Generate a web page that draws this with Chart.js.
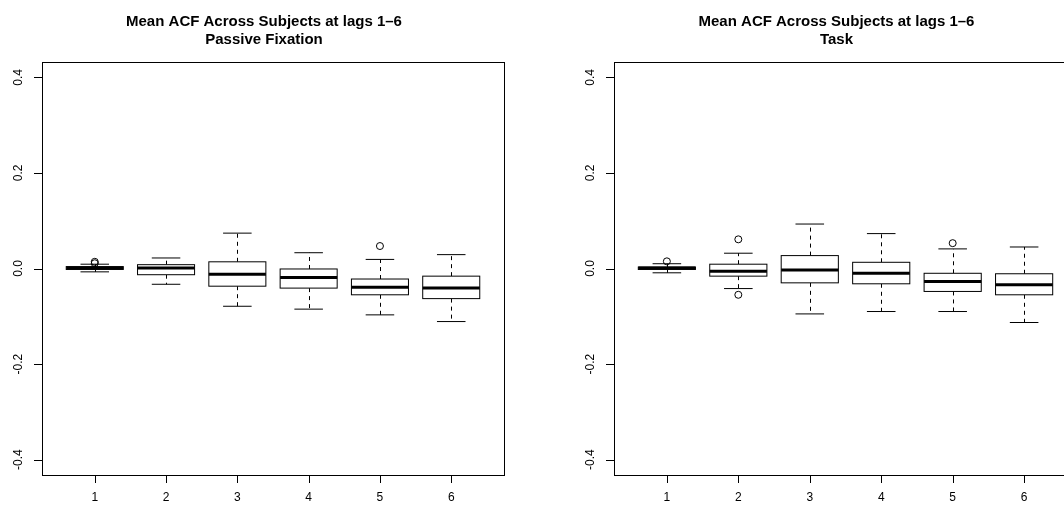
<!DOCTYPE html>
<html>
<head>
<meta charset="utf-8">
<script src="https://cdn.jsdelivr.net/npm/chart.js@4"></script>
<style>
  html, body { margin: 0; padding: 0; background: #fff; }
  #wrap { position: relative; width: 1064px; height: 505px; overflow: hidden; }
  #left { position: absolute; left: 0; top: 0; }
  #right { position: absolute; left: 532px; top: 0; }
</style>
</head>
<body>
<div id="wrap">
  <canvas id="left" width="532" height="505"></canvas>
  <canvas id="right" width="560" height="505"></canvas>
</div>
<script>
// lags on the x axis
const lags = [1, 2, 3, 4, 5, 6];
const xTicks = [1, 2, 3, 4, 5, 6];
const yTicks = [-0.4, -0.2, 0.0, 0.2, 0.4];
const yTickLabels = ['-0.4', '-0.2', '0.0', '0.2', '0.4'];

// Passive Fixation boxplot stats
const pfLow  = [-0.007, -0.033, -0.079, -0.085, -0.097, -0.111];
const pfQ1   = [-0.002, -0.013, -0.037, -0.041, -0.055, -0.063];
const pfMed  = [0.001, 0.001, -0.012, -0.019, -0.039, -0.041];
const pfQ3   = [0.004, 0.008, 0.014, -0.001, -0.022, -0.016];
const pfHigh = [0.009, 0.022, 0.074, 0.033, 0.019, 0.029];
const pfOutX = [1, 1, 5];
const pfOutY = [0.011, 0.014, 0.047];

// Task boxplot stats
const tkLow  = [-0.009, -0.042, -0.095, -0.090, -0.090, -0.113];
const tkQ1   = [-0.002, -0.016, -0.030, -0.032, -0.048, -0.055];
const tkMed  = [0.001, -0.006, -0.003, -0.010, -0.027, -0.034];
const tkQ3   = [0.003, 0.009, 0.027, 0.013, -0.010, -0.011];
const tkHigh = [0.010, 0.032, 0.093, 0.073, 0.041, 0.045];
const tkOutX = [1, 2, 2, 5];
const tkOutY = [0.015, 0.061, -0.055, 0.053];

const titleLine1 = 'Mean ACF Across Subjects at lags 1\u20136';

// draws R-style boxes, frame, axes and titles using the chart scales
const boxPlugin = {
  id: 'rbox',
  beforeDatasetsDraw(chart, args, opts) {
    const c = chart.ctx;
    const xs = chart.scales.x, ys = chart.scales.y;
    const st = opts.stats;
    c.save();
    c.strokeStyle = '#000';
    for (let i = 0; i < lags.length; i++) {
      const x = lags[i];
      const xl = xs.getPixelForValue(x - 0.4), xr = xs.getPixelForValue(x + 0.4);
      const cl = xs.getPixelForValue(x - 0.2), cr = xs.getPixelForValue(x + 0.2);
      const xc = Math.round(xs.getPixelForValue(x)) + 0.5;
      const yLo = ys.getPixelForValue(st.low[i]), yQ1 = ys.getPixelForValue(st.q1[i]);
      const yMd = ys.getPixelForValue(st.med[i]), yQ3 = ys.getPixelForValue(st.q3[i]);
      const yHi = ys.getPixelForValue(st.high[i]);
      // whiskers
      c.lineWidth = 1;
      c.setLineDash([4, 4]);
      c.beginPath();
      c.moveTo(xc, yQ3); c.lineTo(xc, yHi);
      c.moveTo(xc, yQ1); c.lineTo(xc, yLo);
      c.stroke();
      c.setLineDash([]);
      // staples
      c.beginPath();
      c.moveTo(cl, yHi); c.lineTo(cr, yHi);
      c.moveTo(cl, yLo); c.lineTo(cr, yLo);
      c.stroke();
      // box
      c.fillStyle = '#fff';
      c.fillRect(xl, yQ3, xr - xl, yQ1 - yQ3);
      c.strokeRect(xl, yQ3, xr - xl, yQ1 - yQ3);
      // median
      c.lineWidth = 3;
      c.beginPath();
      c.moveTo(xl, yMd); c.lineTo(xr, yMd);
      c.stroke();
    }
    c.restore();
  },
  afterDraw(chart, args, opts) {
    const c = chart.ctx;
    const xs = chart.scales.x, ys = chart.scales.y;
    const a = chart.chartArea;
    c.save();
    c.strokeStyle = '#000';
    c.fillStyle = '#000';
    c.lineWidth = 1;
    // plot frame
    c.strokeRect(a.left + 0.5, a.top + 0.5, a.right - a.left, a.bottom - a.top);
    // y axis
    const y0 = ys.getPixelForValue(yTicks[0]), y1 = ys.getPixelForValue(yTicks[yTicks.length - 1]);
    c.beginPath();
    c.moveTo(a.left + 0.5, y0); c.lineTo(a.left + 0.5, y1);
    yTicks.forEach(v => {
      const y = Math.round(ys.getPixelForValue(v)) + 0.5;
      c.moveTo(a.left + 0.5, y); c.lineTo(a.left - 8, y);
    });
    // x axis
    const x0 = xs.getPixelForValue(xTicks[0]), x1 = xs.getPixelForValue(xTicks[xTicks.length - 1]);
    c.moveTo(x0, a.bottom + 0.5); c.lineTo(x1, a.bottom + 0.5);
    xTicks.forEach(v => {
      const x = Math.round(xs.getPixelForValue(v)) + 0.5;
      c.moveTo(x, a.bottom + 0.5); c.lineTo(x, a.bottom + 8);
    });
    c.stroke();
    c.font = '12px "Liberation Sans", Arial, sans-serif';
    c.textAlign = 'center';
    c.textBaseline = 'middle';
    xTicks.forEach(v => {
      c.fillText(String(v), xs.getPixelForValue(v), a.bottom + 23);
    });
    yTicks.forEach((v, i) => {
      c.save();
      c.translate(a.left - 23, ys.getPixelForValue(v));
      c.rotate(-Math.PI / 2);
      c.fillText(yTickLabels[i], 0, 0);
      c.restore();
    });
    // titles
    const tx = (a.left + a.right) / 2 - 9;
    c.font = 'bold 15px "Liberation Sans", Arial, sans-serif';
    c.textBaseline = 'alphabetic';
    c.fillText(titleLine1, tx, 25.5);
    c.fillText(opts.subtitle, tx, 43.5);
    c.restore();
  }
};

function makeChart(id, pad, stats, outX, outY, subtitle) {
  const pts = outX.map((x, i) => ({ x: x, y: outY[i] }));
  return new Chart(document.getElementById(id), {
    type: 'scatter',
    data: {
      datasets: [{
        data: pts,
        pointStyle: 'circle',
        pointRadius: 3.5,
        pointBorderWidth: 1,
        pointBorderColor: '#000',
        pointBackgroundColor: 'rgba(0,0,0,0)'
      }]
    },
    options: {
      responsive: false,
      animation: false,
      layout: { padding: pad },
      scales: {
        x: { type: 'linear', min: 0.26, max: 6.74, display: false },
        y: { type: 'linear', min: -0.432, max: 0.432, display: false }
      },
      plugins: {
        legend: { display: false },
        tooltip: { enabled: false },
        rbox: { stats: stats, subtitle: subtitle }
      }
    },
    plugins: [boxPlugin]
  });
}

makeChart('left', { left: 42, right: 28, top: 62, bottom: 30 },
  { low: pfLow, q1: pfQ1, med: pfMed, q3: pfQ3, high: pfHigh },
  pfOutX, pfOutY, 'Passive Fixation');

makeChart('right', { left: 82, right: 15, top: 62, bottom: 30 },
  { low: tkLow, q1: tkQ1, med: tkMed, q3: tkQ3, high: tkHigh },
  tkOutX, tkOutY, 'Task');
</script>
</body>
</html>
